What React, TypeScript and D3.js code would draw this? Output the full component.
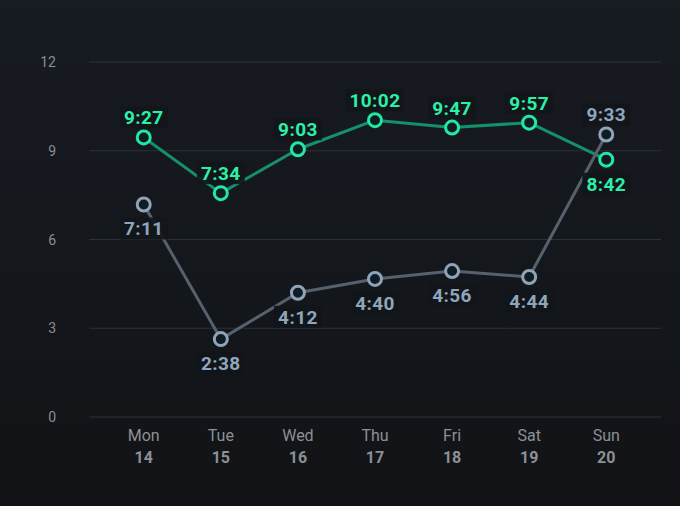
import * as d3 from "d3";

const width = 680;
const height = 506;

const days = ["Mon", "Tue", "Wed", "Thu", "Fri", "Sat", "Sun"];
const dates = ["14", "15", "16", "17", "18", "19", "20"];
// hours, as h:mm labels
const greenLabels = ["9:27", "7:34", "9:03", "10:02", "9:47", "9:57", "8:42"];
const blueLabels = ["7:11", "2:38", "4:12", "4:40", "4:56", "4:44", "9:33"];
// label above (true) or below (false) the point
const greenAbove = [true, true, true, true, true, true, false];
const blueAbove = [false, false, false, false, false, false, true];
const yTicks = [0, 3, 6, 9, 12];

const toHours = (s: string) => {
  const [h, m] = s.split(":").map(Number);
  return h + m / 60;
};

const greenValues = greenLabels.map(toHours);
const blueValues = blueLabels.map(toHours);

const x = d3.scalePoint<string>().domain(days).range([89, 661]).padding(0.71);
const y = d3.scaleLinear().domain([0, 12]).range([417, 62]);

const font = "Roboto, 'DejaVu Sans', sans-serif";

type SeriesProps = {
  values: number[];
  labels: string[];
  above: boolean[];
  point: string;
  text: string;
};

const lineGen = d3
  .line<number>()
  .x((_, i) => x(days[i]) as number)
  .y(d => y(d));

const Lines = ({ values, line }: { values: number[]; line: string }) => (
  <path d={lineGen(values) ?? ""} fill="none" stroke={line} strokeWidth={3} strokeLinejoin="round" />
);

const Points = ({ values, labels, above, point, text }: SeriesProps) => (
  <g>
    {values.map((v, i) => {
      const cx = x(days[i]) as number;
      const cy = y(v);
      const ty = above[i] ? cy - 13 : cy + 31;
      const w = labels[i].length * 10.5 + 6;
      return (
        <g key={i}>
          <circle cx={cx} cy={cy} r={6.5} fill="#0f1b25" stroke={point} strokeWidth={3} />
          <rect x={cx - w / 2} y={ty - 18} width={w} height={22} fill="#121519" opacity={0.9} />
          <text
            x={cx}
            y={ty}
            textAnchor="middle"
            fill={text}
            fontSize={19}
            fontWeight={700}
            letterSpacing={0.4}
            fontFamily={font}
          >
            {labels[i]}
          </text>
        </g>
      );
    })}
  </g>
);

export default function App() {
  return (
    <svg width={width} height={height} style={{ position: "absolute", left: 0, top: 0, display: "block" }}>
      <defs>
        <linearGradient id="bg" x1="0" y1="0" x2="0" y2="1">
          <stop offset="0%" stopColor="#171b22" />
          <stop offset="100%" stopColor="#111316" />
        </linearGradient>
      </defs>
      <rect width={width} height={height} fill="url(#bg)" />

      {yTicks.map(t => (
        <g key={t}>
          <line x1={89} x2={661} y1={y(t)} y2={y(t)} stroke="#2d3138" strokeWidth={1.2} />
          <text x={56} y={y(t) + 5} textAnchor="end" fill="#8a8e95" fontSize={14} fontFamily={font}>
            {t}
          </text>
        </g>
      ))}

      {days.map((d, i) => (
        <g key={d} fontFamily={font} fill="#8c9096" textAnchor="middle">
          <text x={x(d)} y={441} fontSize={16}>{d}</text>
          <text x={x(d)} y={463} fontSize={16} fontWeight={700}>{dates[i]}</text>
        </g>
      ))}

      <Lines values={greenValues} line="#14916a" />
      <Lines values={blueValues} line="#56616d" />

      <Points values={greenValues} labels={greenLabels} above={greenAbove} point="#22e8a0" text="#2cf0a8" />
      <Points values={blueValues} labels={blueLabels} above={blueAbove} point="#8fa4b8" text="#8fa5bb" />
    </svg>
  );
}
